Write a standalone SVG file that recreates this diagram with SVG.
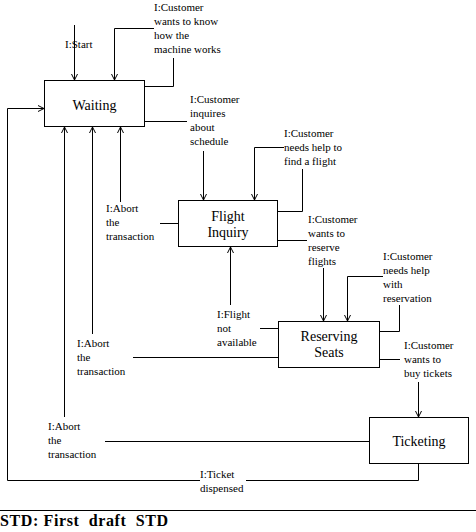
<svg xmlns="http://www.w3.org/2000/svg" width="476" height="532" viewBox="0 0 476 532">
<style>
.box{fill:#fff;stroke:#000;stroke-width:1}
.bl{font-family:"Liberation Serif","Times New Roman",serif;font-size:14px;fill:#000;text-anchor:middle}
.lb{font-family:"Liberation Serif","Times New Roman",serif;font-size:11px;fill:#000}
.c{fill:none;stroke:#000;stroke-width:1}
.t{font-family:"Liberation Serif","Times New Roman",serif;font-size:16px;font-weight:bold;fill:#000;white-space:pre}
</style>
<defs>
<marker id="ah" markerUnits="userSpaceOnUse" viewBox="-7 -4 8 8" refX="0" refY="0" markerWidth="8" markerHeight="8" orient="auto">
<path d="M-6,-3 L0,0 L-6,3" fill="none" stroke="#000" stroke-width="1"/>
</marker>
</defs>
<rect width="476" height="532" fill="#fff"/>
<g id="connectors">
<path class="c" d="M74.5,25 V80" marker-end="url(#ah)"/>
<path class="c" d="M154,28.5 H114.5 V80" marker-end="url(#ah)"/>
<path class="c" d="M144,86.5 H173.5 V58"/>
<path class="c" d="M144,121.5 H187"/>
<path class="c" d="M203.5,151 V200" marker-end="url(#ah)"/>
<path class="c" d="M277,211.5 H302.5 V169"/>
<path class="c" d="M284,147.5 H254.5 V200" marker-end="url(#ah)"/>
<path class="c" d="M277,240.5 H307"/>
<path class="c" d="M323.5,268 V321" marker-end="url(#ah)"/>
<path class="c" d="M178,223.5 H160"/>
<path class="c" d="M120.5,202 V127" marker-end="url(#ah)"/>
<path class="c" d="M278,328.5 H260"/>
<path class="c" d="M230.5,305 V247" marker-end="url(#ah)"/>
<path class="c" d="M380,331.5 H399.5 V305"/>
<path class="c" d="M383,276.5 H347.5 V321" marker-end="url(#ah)"/>
<path class="c" d="M278,357.5 H133"/>
<path class="c" d="M92.5,334 V127" marker-end="url(#ah)"/>
<path class="c" d="M380,359.5 H400"/>
<path class="c" d="M418.5,382 V417" marker-end="url(#ah)"/>
<path class="c" d="M369,441.5 H105"/>
<path class="c" d="M64.5,417 V127" marker-end="url(#ah)"/>
<path class="c" d="M418.5,464 V480.5 H246"/>
<path class="c" d="M200,480.5 H7.5 V108.5 H44" marker-end="url(#ah)"/>
</g>
<g id="labels">
<text class="lb" x="65" y="48">I:Start</text>
<text class="lb" x="154" y="11">I:Customer</text>
<text class="lb" x="154" y="25">wants to know</text>
<text class="lb" x="154" y="39">how the</text>
<text class="lb" x="154" y="53">machine works</text>
<text class="lb" x="190" y="103">I:Customer</text>
<text class="lb" x="190" y="117">inquires</text>
<text class="lb" x="190" y="131">about</text>
<text class="lb" x="190" y="145">schedule</text>
<text class="lb" x="284" y="137">I:Customer</text>
<text class="lb" x="284" y="151">needs help to</text>
<text class="lb" x="284" y="165">find a flight</text>
<text class="lb" x="308" y="223">I:Customer</text>
<text class="lb" x="308" y="237">wants to</text>
<text class="lb" x="308" y="251">reserve</text>
<text class="lb" x="308" y="265">flights</text>
<text class="lb" x="106" y="212">I:Abort</text>
<text class="lb" x="106" y="226">the</text>
<text class="lb" x="106" y="240">transaction</text>
<text class="lb" x="217" y="318">I:Flight</text>
<text class="lb" x="217" y="332">not</text>
<text class="lb" x="217" y="346">available</text>
<text class="lb" x="383" y="260">I:Customer</text>
<text class="lb" x="383" y="274">needs help</text>
<text class="lb" x="383" y="288">with</text>
<text class="lb" x="383" y="302">reservation</text>
<text class="lb" x="404" y="349">I:Customer</text>
<text class="lb" x="404" y="363">wants to</text>
<text class="lb" x="404" y="377">buy tickets</text>
<text class="lb" x="77" y="347">I:Abort</text>
<text class="lb" x="77" y="361">the</text>
<text class="lb" x="77" y="375">transaction</text>
<text class="lb" x="48" y="430">I:Abort</text>
<text class="lb" x="48" y="444">the</text>
<text class="lb" x="48" y="458">transaction</text>
<text class="lb" x="200" y="478">I:Ticket</text>
<text class="lb" x="200" y="492">dispensed</text>
</g>
<g id="waiting">
<rect class="box" x="44.5" y="80.5" width="100" height="46"/>
<text class="bl" x="94.5" y="110">Waiting</text>
</g>
<g id="flight-inquiry">
<rect class="box" x="178.5" y="200.5" width="99" height="46"/>
<text class="bl" x="228" y="221">Flight</text>
<text class="bl" x="228" y="237">Inquiry</text>
</g>
<g id="reserving-seats">
<rect class="box" x="278.5" y="321.5" width="101" height="46"/>
<text class="bl" x="329" y="341">Reserving</text>
<text class="bl" x="329" y="357">Seats</text>
</g>
<g id="ticketing">
<rect class="box" x="369.5" y="417.5" width="99" height="46"/>
<text class="bl" x="419" y="446">Ticketing</text>
</g>
<line x1="0" y1="510.5" x2="476" y2="510.5" stroke="#000" stroke-width="1"/>
<text class="t" x="0" y="526" textLength="168" lengthAdjust="spacing">STD: First  draft  STD</text>
</svg>
